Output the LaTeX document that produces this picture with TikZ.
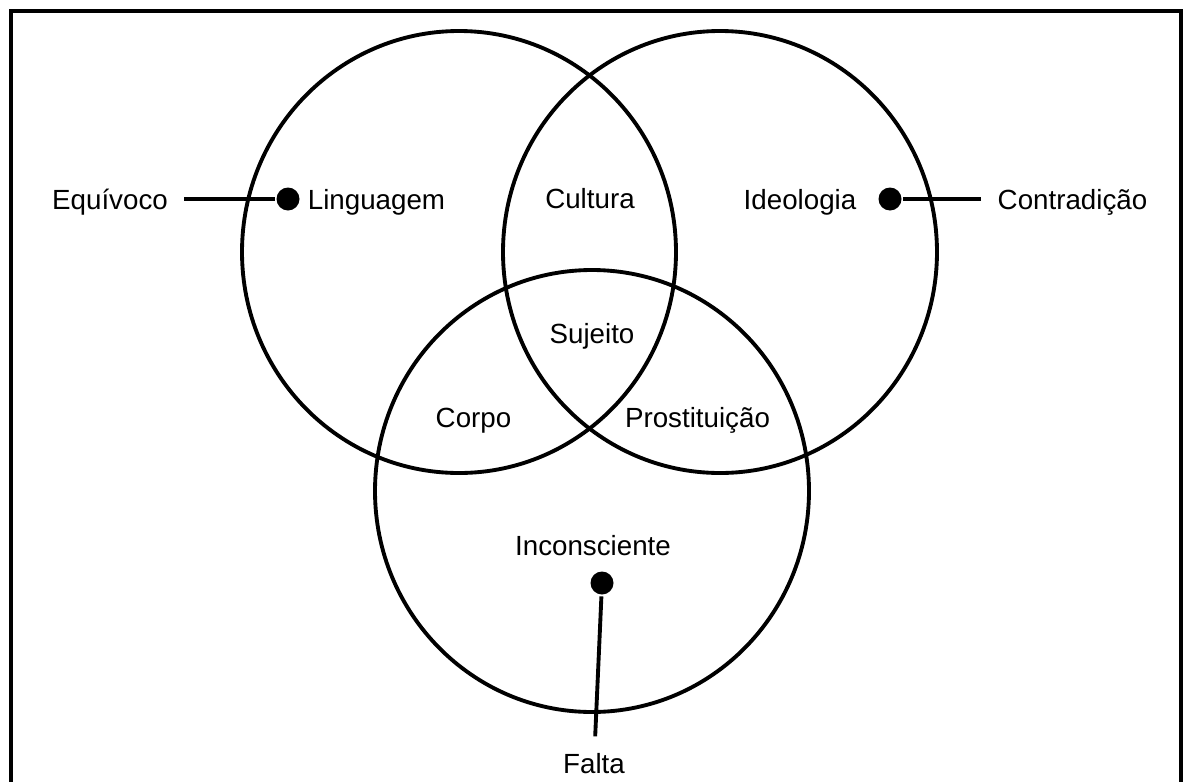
\documentclass[tikz,border=0pt]{standalone}
\usepackage{fontspec}
\setmainfont{Liberation Sans}
\begin{document}
        \begin{tikzpicture}[x=0.75pt, y=-0.75pt, line width=2.9pt, shorten <=4pt,
            word/.style={font=\fontsize{20.8}{25}\selectfont, text height=15pt, text depth=0pt, inner sep=7pt, anchor=base},
            dot/.style={circle, fill, inner sep=0pt, minimum size=17.25pt}]
            \clip (0,0) rectangle (1183,782);
            \draw[line width=3.2pt] (11,830) -- (11,11) -- (1181,11) -- (1181,830);
            \draw (459,252) ellipse [x radius=217, y radius=221];
            \draw (720,252) ellipse [x radius=217, y radius=221];
            \draw (592,491) ellipse [x radius=217, y radius=221];
            \node [word] (Linguagem) at (376.5,209) {Linguagem};
            \node [word] (Cultura) at (590,208) {Cultura};
            \node [word] (Ideologia) at (800,209) {Ideologia};
            \node [word] (Sujeito) at (592,343) {Sujeito};
            \node [word] (Corpo) at (473.5,427) {Corpo};
            \node [word] (Prostituicao) at (697.5,427) {Prostituição};
            \node [word] (Inconsciente) at (593,555) {Inconsciente};
            \node [word] (Equivoco) at (110,209) {Equívoco};
            \node [word] (Contradicao) at (1072.5,209) {Contradição};
            \node [word] (Falta) at (594,773) {Falta};
            \node [dot] (LinguagemDot) at (288,199) {};
            \node [dot] (IdeologiaDot) at (890,199) {};
            \node [dot] (InconscienteDot) at (602,583) {};
            \path (Equivoco) edge (LinguagemDot);
            \path (Contradicao) edge (IdeologiaDot);
            \path (Falta) edge (InconscienteDot);
        \end{tikzpicture}
\end{document}
